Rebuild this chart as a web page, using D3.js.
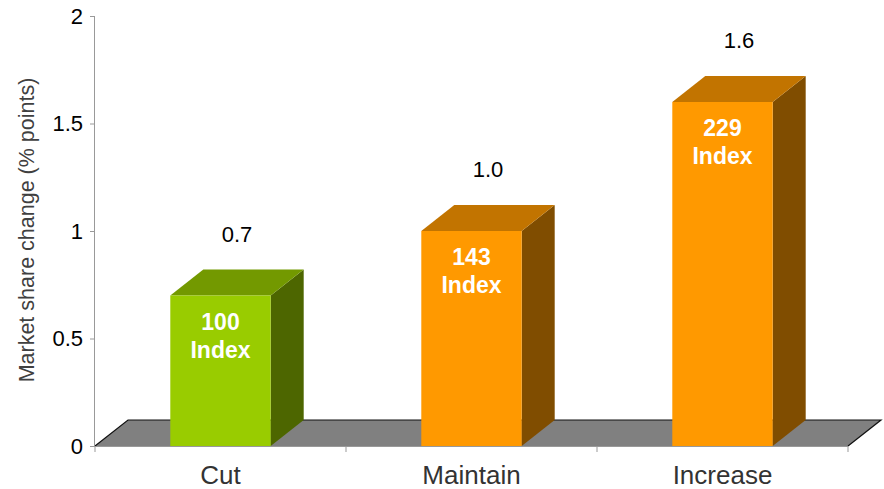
<!DOCTYPE html>
<html><head><meta charset="utf-8">
<script src="https://cdn.jsdelivr.net/npm/d3@7"></script>
<style>body{margin:0;background:#fff}svg{display:block}text{font-family:"Liberation Sans",Arial,sans-serif}</style>
</head><body>
<svg id="c" width="884" height="489"></svg>
<script>
const categories = ["Cut", "Maintain", "Increase"];
const values = [0.7, 1.0, 1.6];
const indexLabels = ["100", "143", "229"];
const valueLabels = ["0.7", "1.0", "1.6"];
const yTicks = [0, 0.5, 1, 1.5, 2];
const yTickLabels = ["0", "0.5", "1", "1.5", "2"];
const yTitle = "Market share change (% points)";
const palette = [
  {front:"#99CC00", top:"#739900", side:"#4D6600"},
  {front:"#FF9900", top:"#C27400", side:"#804D00"},
  {front:"#FF9900", top:"#C27400", side:"#804D00"}
];

const svg = d3.select("#c");
const left = 95, right = 848, y0 = 446, yTop = 16;
const dx = 33, dy = 26;
const x = d3.scaleBand().domain(categories).range([left, right]).paddingInner(0.6).paddingOuter(0.3);
const y = d3.scaleLinear().domain([0, 2]).range([y0, yTop]);
const step = x.step();

// floor
svg.append("path")
  .attr("d", `M${left},${y0}L${left+dx},${y0-dy}L${right+dx},${y0-dy}L${right},${y0}Z`)
  .attr("fill", "#808080");
svg.append("path")
  .attr("d", `M${left},${y0}L${left+dx},${y0-dy}L${right+dx},${y0-dy}L${right},${y0}`)
  .attr("fill", "none").attr("stroke", "#111").attr("stroke-width", 1.2);

// y axis
const yAxis = d3.axisLeft(y).tickValues(yTicks).tickFormat((d,i)=>yTickLabels[i]).tickSize(5).tickPadding(7);
const ga = svg.append("g").attr("transform", `translate(${left},0)`).call(yAxis);
ga.select(".domain").attr("stroke", "#999").attr("d", `M-0.5,${yTop}V${y0+1}`);
ga.selectAll(".tick line").attr("stroke", "#999");
ga.selectAll(".tick text").attr("font-size", 22).attr("fill", "#000").attr("font-family", '"Liberation Sans",Arial,sans-serif');

// x axis line + ticks at band boundaries
svg.append("line").attr("x1", left).attr("x2", right).attr("y1", y0+0.5).attr("y2", y0+0.5).attr("stroke", "#999");
const bounds = [left].concat(categories.map(c => x(c) - step*0.3 + step));
svg.selectAll(".xt").data(bounds).enter().append("line")
  .attr("x1", d=>d).attr("x2", d=>d).attr("y1", y0).attr("y2", y0+6).attr("stroke", "#999");

// bars
const bars = svg.selectAll(".bar").data(categories).enter().append("g");
bars.each(function(c, i) {
  const g = d3.select(this);
  const x0 = x(c), x1 = x0 + x.bandwidth(), t = y(values[i]);
  const col = palette[i];
  g.append("path").attr("d", `M${x1},${t}L${x1+dx},${t-dy}L${x1+dx},${y0-dy}L${x1},${y0}Z`).attr("fill", col.side);
  g.append("path").attr("d", `M${x0},${t}L${x0+dx},${t-dy}L${x1+dx},${t-dy}L${x1},${t}Z`).attr("fill", col.top);
  g.append("rect").attr("x", x0).attr("y", t).attr("width", x.bandwidth()).attr("height", y0 - t).attr("fill", col.front);
  const cx = x0 + x.bandwidth()/2;
  g.append("text").attr("x", cx).attr("y", t + 34).attr("text-anchor", "middle")
    .attr("font-size", 23).attr("font-weight", "bold").attr("fill", "#fff").text(indexLabels[i]);
  g.append("text").attr("x", cx).attr("y", t + 62).attr("text-anchor", "middle")
    .attr("font-size", 23).attr("font-weight", "bold").attr("fill", "#fff").text("Index");
  g.append("text").attr("x", cx + dx/2).attr("y", t - 54).attr("text-anchor", "middle")
    .attr("font-size", 22).attr("fill", "#000").text(valueLabels[i]);
  g.append("text").attr("x", cx).attr("y", 484).attr("text-anchor", "middle")
    .attr("font-size", 26).attr("fill", "#333").text(c);
});

// y title
svg.append("text").attr("transform", "translate(34,230) rotate(-90)").attr("text-anchor", "middle")
  .attr("font-size", 21.5).attr("fill", "#404040").text(yTitle);
</script>
</body></html>
